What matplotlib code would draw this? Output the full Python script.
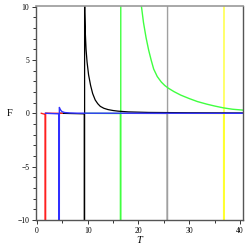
import matplotlib
matplotlib.use('Agg')
import matplotlib.pyplot as plt
from matplotlib.ticker import MultipleLocator

# curves (values beyond the axes are clipped by the axes)
red_T = [0.9, 1.65, 1.7, 1.75, 3.0, 5.0]
red_F = [0.0, -0.1, -100, 0.02, 0.0, 0.0]

blue_T = [1.7, 4.35, 4.4, 4.45, 4.6, 4.8, 5.0, 5.5, 6.5, 8.0, 40.5]
blue_F = [0.0, -0.05, -100, 0.55, 0.38, 0.24, 0.15, 0.07, 0.03, 0.01, 0.0]

black_T = [4.5, 9.35, 9.4, 9.42, 9.45, 9.55, 9.7, 9.9, 10.2, 10.6, 11.0, 11.5,
           12.0, 12.5, 13.2, 14.0, 15.0, 16.0, 18.0, 22.0, 30.0, 40.5]
black_F = [0.0, -0.05, -100, 40, 9.5, 7.6, 6.0, 4.8, 3.6, 2.6, 1.85, 1.25,
           0.9, 0.65, 0.47, 0.35, 0.26, 0.2, 0.13, 0.08, 0.05, 0.03]

green_T = [9.5, 16.45, 16.5, 16.55, 19.0, 20.6, 21.0, 21.5, 22.0, 22.5, 23.0, 23.7,
           24.5, 25.2, 25.9, 27.0, 28.3, 30.0, 31.6, 33.5, 35.0, 36.8, 38.5, 40.5]
green_F = [0.0, -0.02, -100, 100, 30, 10, 8.5, 7.1, 5.95, 5.0, 4.15, 3.45,
           2.93, 2.6, 2.35, 2.03, 1.71, 1.38, 1.1, 0.85, 0.68, 0.5, 0.38, 0.3]

gray_T = [16.5, 25.65, 25.7, 25.75, 40.5]
gray_F = [0.0, -0.02, -100, 100, 100]

yellow_T = [25.7, 36.75, 36.8, 36.85, 40.5]
yellow_F = [0.0, -0.02, -100, 100, 100]

fig = plt.figure(figsize=(2.49, 2.49), dpi=100)
ax = fig.add_axes([0.1426, 0.1145, 0.832, 0.8615])

ax.plot(yellow_T, yellow_F, color='#ffff30', lw=1.0)
ax.plot(gray_T, gray_F, color='#a0a0a0', lw=1.0)
ax.plot(green_T, green_F, color='#40ff40', lw=1.0)
ax.plot(black_T, black_F, color='black', lw=0.9)
ax.plot(red_T, red_F, color='#ff2020', lw=1.0)
ax.plot(blue_T, blue_F, color='#3030ff', lw=1.0)

ax.set_xlim(-0.24, 40.5)
ax.set_ylim(-10.06, 10.07)

ax.xaxis.set_major_locator(MultipleLocator(10))
ax.xaxis.set_minor_locator(MultipleLocator(5))
ax.yaxis.set_major_locator(MultipleLocator(5))
ax.yaxis.set_minor_locator(MultipleLocator(1))
ax.tick_params(which='both', direction='out', top=False, right=False,
               labelsize=5.5, colors='#333333', width=0.7, pad=1.5)
ax.tick_params(which='major', length=3)
ax.tick_params(which='minor', length=2)
for lab in ax.get_xticklabels() + ax.get_yticklabels():
    lab.set_family('Liberation Serif')
    lab.set_color('black')

for side in ['left', 'bottom', 'right']:
    ax.spines[side].set_color('#555555')
    ax.spines[side].set_linewidth(1.0)
ax.spines['top'].set_color('#999999')
ax.spines['top'].set_linewidth(1.2)

fig.text(10 / 249, 1 - 113 / 249, 'F', family='Liberation Serif', fontsize=7.5,
         ha='center', va='center')
fig.text(139 / 249, 1 - 240 / 249, 'T', family='Liberation Serif', style='italic',
         fontsize=7.5, ha='center', va='center')

fig.savefig('out.png', dpi=100)
